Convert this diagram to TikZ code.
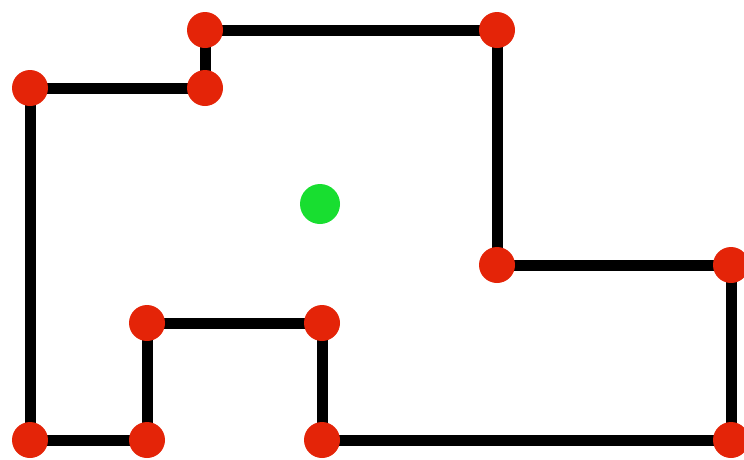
\documentclass[tikz,border=0pt]{standalone}
\usepackage{xcolor}
\definecolor{vertc}{RGB}{228,36,8}
\definecolor{centc}{RGB}{24,222,48}
\tikzset{
  wall/.style={line width=11pt, black, line join=miter, line cap=butt},
  vert/.style={circle, fill=vertc, inner sep=0pt, minimum size=36pt},
  cent/.style={circle, fill=centc, inner sep=0pt, minimum size=40pt}
}
\begin{document}
\begin{tikzpicture}[x=1pt, y=-1pt]
  \useasboundingbox (0,0) rectangle (744,459);

  % ---- outline corners ----
  \coordinate (p1)  at (205,30);
  \coordinate (p2)  at (497,30);
  \coordinate (p3)  at (497,265);
  \coordinate (p4)  at (731,265);
  \coordinate (p5)  at (731,440);
  \coordinate (p6)  at (322,440);
  \coordinate (p7)  at (322,323);
  \coordinate (p8)  at (147,323);
  \coordinate (p9)  at (147,440);
  \coordinate (p10) at (30,440);
  \coordinate (p11) at (30,88);
  \coordinate (p12) at (205,88);

  % walls
  \draw[wall] (p1) -- (p2) -- (p3) -- (p4) -- (p5) -- (p6) -- (p7) -- (p8)
    -- (p9) -- (p10) -- (p11) -- (p12) -- cycle;

  % corner dots
  \foreach \i in {1,...,12}
    \node[vert] (v\i) at (p\i) {};

  % centre
  \node[cent] (c) at (320,204) {};
\end{tikzpicture}
\end{document}
